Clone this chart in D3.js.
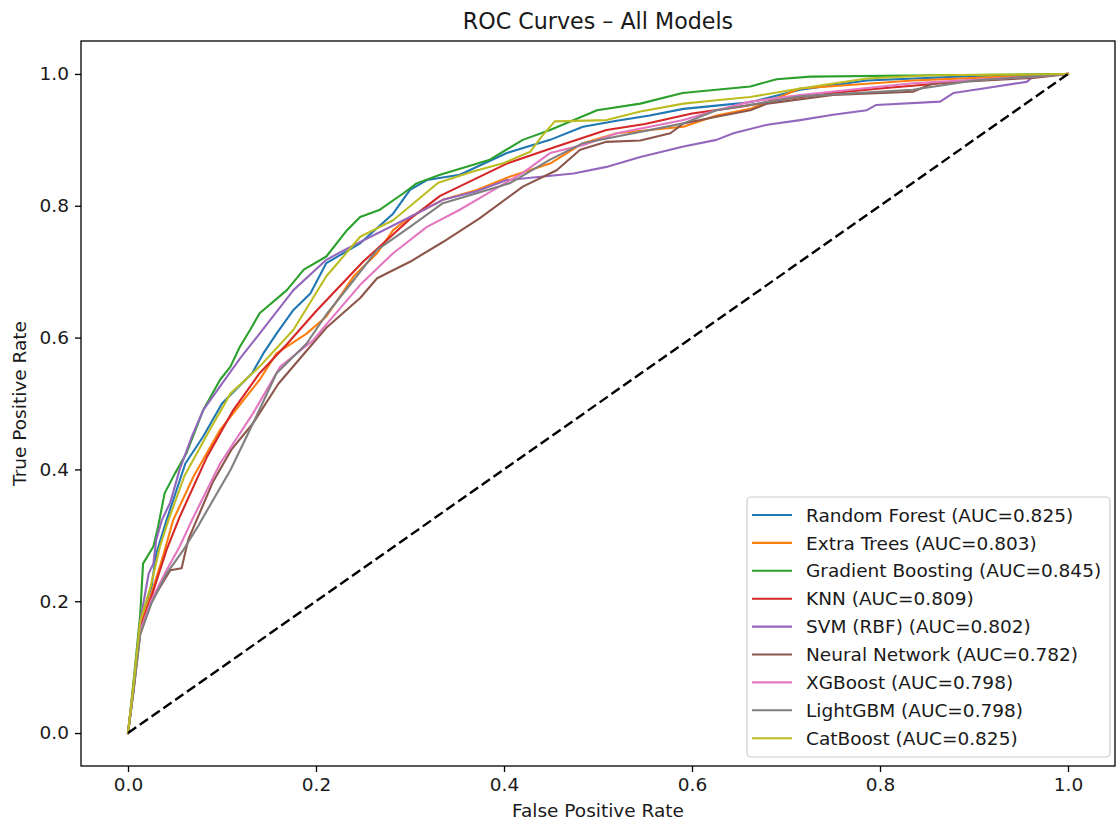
<!DOCTYPE html>
<html>
<head>
<meta charset="utf-8">
<script src="https://cdn.jsdelivr.net/npm/d3@7"></script>
<style>
  html, body { margin: 0; padding: 0; background: #fff; }
  svg { display: block; font-family: "DejaVu Sans", sans-serif; }
</style>
</head>
<body>
<svg id="chart" width="1116" height="822"></svg>
<script>
// ---------------- data ----------------
const modelNames = ["Random Forest", "Extra Trees", "Gradient Boosting", "KNN", "SVM (RBF)",
                    "Neural Network", "XGBoost", "LightGBM", "CatBoost"];
const aucValues = [0.825, 0.803, 0.845, 0.809, 0.802, 0.782, 0.798, 0.798, 0.825];
const xTicks = [0.0, 0.2, 0.4, 0.6, 0.8, 1.0];
const yTicks = [0.0, 0.2, 0.4, 0.6, 0.8, 1.0];
const chanceLine = [[0, 0], [1, 1]];

// [fpr, tpr] points
const rfCurve = [[0,0],[0.006,0.07],[0.013,0.17],[0.025,0.222],[0.03,0.272],[0.041,0.323],[0.061,0.409],
  [0.08,0.45],[0.1,0.5],[0.132,0.546],[0.144,0.576],[0.158,0.606],[0.176,0.642],[0.194,0.667],[0.211,0.713],
  [0.247,0.743],[0.282,0.788],[0.3,0.824],[0.318,0.839],[0.353,0.847],[0.403,0.88],[0.449,0.9],
  [0.484,0.92],[0.52,0.929],[0.555,0.937],[0.591,0.947],[0.626,0.952],[0.662,0.957],[0.715,0.976],
  [0.786,0.99],[0.9,0.997],[1,1]];
const etCurve = [[0,0],[0.006,0.07],[0.013,0.165],[0.025,0.212],[0.038,0.272],[0.048,0.323],[0.07,0.39],
  [0.098,0.46],[0.12,0.5],[0.14,0.536],[0.158,0.576],[0.19,0.606],[0.211,0.632],[0.24,0.693],[0.265,0.728],
  [0.282,0.763],[0.3,0.783],[0.335,0.809],[0.371,0.824],[0.406,0.844],[0.449,0.864],[0.484,0.895],[0.52,0.91],
  [0.555,0.915],[0.591,0.92],[0.626,0.937],[0.662,0.947],[0.715,0.978],[0.835,0.99],[1,1]];
const gbCurve = [[0,0],[0.006,0.08],[0.013,0.18],[0.016,0.257],[0.027,0.283],[0.032,0.313],[0.039,0.364],
  [0.05,0.394],[0.062,0.424],[0.08,0.49],[0.098,0.536],[0.109,0.556],[0.119,0.586],[0.13,0.612],[0.14,0.637],
  [0.169,0.672],[0.187,0.703],[0.211,0.723],[0.233,0.763],[0.247,0.783],[0.268,0.794],[0.293,0.819],
  [0.307,0.834],[0.332,0.847],[0.385,0.87],[0.42,0.9],[0.449,0.915],[0.499,0.945],[0.545,0.955],
  [0.59,0.971],[0.626,0.976],[0.662,0.981],[0.69,0.992],[0.726,0.996],[0.857,0.998],[1,1]];
const knnCurve = [[0,0],[0.006,0.07],[0.013,0.16],[0.025,0.207],[0.034,0.247],[0.041,0.278],[0.055,0.328],
  [0.084,0.419],[0.112,0.49],[0.14,0.546],[0.169,0.59],[0.2,0.64],[0.25,0.715],[0.3,0.78],[0.332,0.815],
  [0.403,0.864],[0.456,0.89],[0.509,0.915],[0.55,0.924],[0.6,0.94],[0.65,0.95],[0.7,0.962],[0.75,0.971],
  [0.8,0.978],[0.85,0.984],[0.9,0.99],[0.95,0.995],[1,1]];
const svmCurve = [[0,0],[0.006,0.07],[0.013,0.17],[0.022,0.242],[0.027,0.257],[0.03,0.293],[0.036,0.323],
  [0.045,0.35],[0.055,0.4],[0.068,0.45],[0.08,0.49],[0.1,0.53],[0.12,0.57],[0.14,0.606],[0.176,0.672],
  [0.211,0.718],[0.233,0.735],[0.265,0.758],[0.3,0.783],[0.335,0.809],[0.371,0.822],[0.403,0.839],
  [0.474,0.849],[0.509,0.859],[0.545,0.874],[0.591,0.89],[0.626,0.9],[0.644,0.91],[0.68,0.923],
  [0.715,0.93],[0.75,0.938],[0.786,0.945],[0.796,0.953],[0.864,0.958],[0.878,0.971],[0.91,0.978],
  [0.956,0.988],[0.963,0.996],[1,1]];
const nnCurve = [[0,0],[0.006,0.065],[0.013,0.15],[0.025,0.2],[0.045,0.247],[0.057,0.25],[0.059,0.262],
  [0.064,0.293],[0.073,0.323],[0.09,0.38],[0.11,0.43],[0.133,0.47],[0.16,0.53],[0.19,0.58],[0.211,0.615],
  [0.247,0.66],[0.265,0.69],[0.3,0.715],[0.335,0.745],[0.374,0.781],[0.42,0.829],[0.456,0.854],
  [0.481,0.885],[0.509,0.897],[0.545,0.899],[0.577,0.91],[0.591,0.925],[0.626,0.935],[0.662,0.945],
  [0.68,0.955],[0.75,0.968],[0.835,0.973],[0.857,0.986],[0.963,0.994],[1,1]];
const xgbCurve = [[0,0],[0.006,0.07],[0.013,0.155],[0.025,0.202],[0.041,0.247],[0.055,0.283],[0.068,0.323],
  [0.098,0.409],[0.133,0.485],[0.162,0.556],[0.197,0.596],[0.211,0.62],[0.247,0.68],[0.282,0.728],
  [0.318,0.768],[0.353,0.794],[0.389,0.824],[0.42,0.85],[0.449,0.88],[0.484,0.892],[0.52,0.91],[0.555,0.92],
  [0.591,0.93],[0.626,0.945],[0.662,0.958],[0.715,0.968],[0.835,0.986],[0.963,0.996],[1,1]];
const lgbmCurve = [[0,0],[0.006,0.065],[0.013,0.15],[0.025,0.197],[0.041,0.242],[0.059,0.278],[0.075,0.315],
  [0.085,0.34],[0.109,0.399],[0.133,0.47],[0.158,0.546],[0.19,0.591],[0.211,0.635],[0.24,0.687],[0.265,0.733],
  [0.3,0.768],[0.335,0.804],[0.371,0.819],[0.406,0.834],[0.449,0.87],[0.484,0.895],[0.52,0.905],
  [0.591,0.925],[0.626,0.945],[0.662,0.953],[0.715,0.966],[0.835,0.976],[0.9,0.99],[1,1]];
const cbCurve = [[0,0],[0.006,0.075],[0.013,0.17],[0.024,0.222],[0.034,0.283],[0.043,0.323],[0.06,0.39],
  [0.087,0.46],[0.109,0.515],[0.14,0.556],[0.176,0.612],[0.211,0.693],[0.247,0.753],[0.282,0.778],
  [0.33,0.835],[0.367,0.852],[0.4,0.865],[0.428,0.882],[0.44,0.905],[0.454,0.928],[0.509,0.93],
  [0.545,0.943],[0.591,0.955],[0.626,0.96],[0.662,0.965],[0.715,0.978],[0.786,0.993],[0.857,0.998],[1,1]];
const curves = [rfCurve, etCurve, gbCurve, knnCurve, svmCurve, nnCurve, xgbCurve, lgbmCurve, cbCurve];

// ---------------- drawing ----------------
const palette = d3.schemeCategory10;
const svg = d3.select("#chart");
const plot = { left: 81, right: 1115, top: 41, bottom: 766 };
const fontSize = "18.5px";

const x = d3.scaleLinear().domain([-0.05, 1.05]).range([plot.left, plot.right]);
const y = d3.scaleLinear().domain([-0.05, 1.05]).range([plot.bottom, plot.top]);

const line = d3.line().x(d => x(d[0])).y(d => y(d[1]));

svg.append("clipPath").attr("id", "clip")
  .append("rect").attr("x", plot.left).attr("y", plot.top)
  .attr("width", plot.right - plot.left).attr("height", plot.bottom - plot.top);

const gLines = svg.append("g").attr("clip-path", "url(#clip)");
curves.forEach((c, i) => {
  gLines.append("path").datum(c)
    .attr("d", line)
    .attr("fill", "none")
    .attr("stroke", palette[i])
    .attr("stroke-width", 2.1)
    .attr("stroke-linejoin", "round")
    .attr("stroke-linecap", "square");
});
gLines.append("path").datum(chanceLine)
  .attr("d", line)
  .attr("fill", "none")
  .attr("stroke", "#000")
  .attr("stroke-width", 2.4)
  .attr("stroke-dasharray", "10,4.4");

// axes
const fmt = d3.format(".1f");
const xAxis = d3.axisBottom(x).tickValues(xTicks).tickFormat(fmt).tickSize(6).tickPadding(6);
const yAxis = d3.axisLeft(y).tickValues(yTicks).tickFormat(fmt).tickSize(6).tickPadding(6);

const gx = svg.append("g").attr("transform", `translate(0,${plot.bottom})`).call(xAxis);
const gy = svg.append("g").attr("transform", `translate(${plot.left},0)`).call(yAxis);
[gx, gy].forEach(g => {
  g.select(".domain").remove();
  g.selectAll(".tick line").attr("stroke", "#000").attr("stroke-width", 1.3);
  g.selectAll(".tick text").attr("fill", "#1a1a1a")
    .style("font-family", "'DejaVu Sans', sans-serif").style("font-size", fontSize);
});

// spines
svg.append("rect")
  .attr("x", plot.left).attr("y", plot.top)
  .attr("width", plot.right - plot.left).attr("height", plot.bottom - plot.top)
  .attr("fill", "none").attr("stroke", "#000").attr("stroke-width", 1.3);

// title & labels
svg.append("text")
  .attr("x", (plot.left + plot.right) / 2).attr("y", 29)
  .attr("text-anchor", "middle").attr("fill", "#1a1a1a")
  .style("font-size", "22.2px")
  .text("ROC Curves – All Models");
svg.append("text")
  .attr("x", (plot.left + plot.right) / 2).attr("y", 817)
  .attr("text-anchor", "middle").attr("fill", "#1a1a1a")
  .style("font-size", fontSize)
  .text("False Positive Rate");
svg.append("text")
  .attr("transform", `translate(26,${(plot.top + plot.bottom) / 2}) rotate(-90)`)
  .attr("text-anchor", "middle").attr("fill", "#1a1a1a")
  .style("font-size", fontSize)
  .text("True Positive Rate");

// legend
const legend = svg.append("g");
legend.append("rect")
  .attr("x", 747).attr("y", 497).attr("width", 363).attr("height", 260)
  .attr("rx", 4).attr("ry", 4)
  .attr("fill", "#fff").attr("fill-opacity", 0.8)
  .attr("stroke", "#cccccc").attr("stroke-width", 1.2);
modelNames.forEach((name, i) => {
  const cy = 515 + i * 27.9;
  legend.append("line")
    .attr("x1", 752).attr("x2", 792).attr("y1", cy).attr("y2", cy)
    .attr("stroke", palette[i]).attr("stroke-width", 2.1);
  legend.append("text")
    .attr("x", 806).attr("y", cy).attr("dy", "0.36em")
    .attr("fill", "#1a1a1a").style("font-size", fontSize)
    .text(`${name} (AUC=${aucValues[i].toFixed(3)})`);
});
</script>
</body>
</html>
